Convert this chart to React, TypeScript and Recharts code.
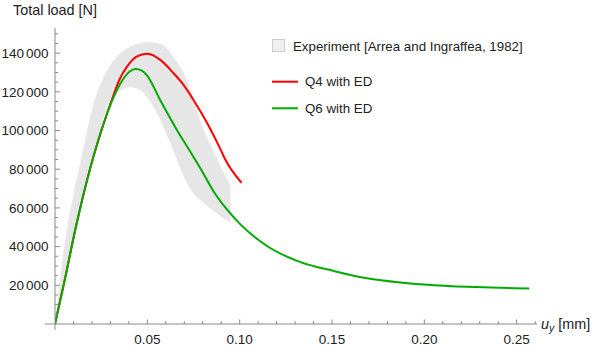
import {
  Area,
  ComposedChart,
  Label,
  Legend,
  Line,
  ReferenceLine,
  XAxis,
  YAxis,
} from 'recharts';

const FONT = '"Liberation Sans", Arial, sans-serif';
const axisColor = '#8a8a8a';
const textColor = '#222';

const bandX = [0, 0.005, 0.01, 0.015, 0.02, 0.025, 0.03, 0.035, 0.04, 0.045, 0.05, 0.055, 0.06, 0.065, 0.07, 0.075, 0.08, 0.085, 0.09, 0.095];
const bandLow = [0, 21500, 43000, 64000, 84000, 102000, 116000, 120500, 122400, 121500, 117000, 109500, 99000, 87500, 75500, 67500, 63000, 59000, 55500, 52500];
const bandHigh = [0, 40000, 67000, 89000, 111000, 125000, 134000, 139500, 143000, 144800, 145600, 145200, 143000, 137000, 129000, 116500, 101500, 91000, 81000, 72000];

// Q4 with ED
const q4X = [0, 0.005, 0.011, 0.0191, 0.0282, 0.031, 0.035, 0.039, 0.0444, 0.0498, 0.0516, 0.057, 0.0643, 0.0697, 0.0751, 0.0823, 0.0895, 0.0922, 0.1010];
const q4Load = [0, 21500, 48800, 80600, 108800, 116500, 126500, 133000, 138300, 139700, 139400, 136500, 129500, 123500, 115700, 104000, 90500, 85000, 73000];

// Q6 with ED
const q6X = [0, 0.005, 0.011, 0.0191, 0.0282, 0.0354, 0.0405, 0.0435, 0.047, 0.0498, 0.057, 0.066, 0.0733, 0.0787, 0.0859, 0.0932, 0.1004, 0.1148, 0.1329, 0.151, 0.169, 0.187, 0.205, 0.223, 0.241, 0.2568];
const q6Load = [0, 21500, 48800, 80600, 108800, 124300, 130500, 131800, 131000, 128500, 115700, 100300, 89000, 80500, 68500, 59100, 51500, 40300, 32000, 27400, 23600, 21400, 20000, 19200, 18700, 18350];

const xMajor = [0.05, 0.1, 0.15, 0.2, 0.25];
const xLabels = ['0.05', '0.10', '0.15', '0.20', '0.25'];
const yMajor = [20000, 40000, 60000, 80000, 100000, 120000, 140000];
const yLabels = ['20', '40', '60', '80', '100', '120', '140'];

const bandData = bandX.map((x, i) => ({ x, range: [bandLow[i], bandHigh[i]] }));
const q4Data = q4X.map((x, i) => ({ x, load: q4Load[i] }));
const q6Data = q6X.map((x, i) => ({ x, load: q6Load[i] }));

const xTicks: number[] = [];
for (let i = 1; i <= 26; i++) xTicks.push(i / 100);
const yTicks: number[] = [];
for (let i = 1; i <= 30; i++) yTicks.push(i * 5000);

function XTick(props: any) {
  const { x, y, payload } = props;
  const idx = xMajor.findIndex((m) => Math.abs(m - payload.value) < 1e-6);
  const major = idx >= 0;
  return (
    <g>
      <line x1={x} x2={x} y1={y} y2={y - (major ? 4.5 : 3)} stroke={axisColor} />
      {major && (
        <text x={x} y={y + 20} textAnchor="middle" fontSize={13.5} fontFamily={FONT} fill={textColor}>
          {xLabels[idx]}
        </text>
      )}
    </g>
  );
}

function YTick(props: any) {
  const { x, y, payload } = props;
  const idx = yMajor.indexOf(payload.value);
  const major = idx >= 0;
  return (
    <g>
      <line x1={x} x2={x + (major ? 5 : 3)} y1={y} y2={y} stroke={axisColor} />
      {major && (
        <text x={x - 6.5} y={y} dy="0.36em" textAnchor="end" fontSize={13.5} fontFamily={FONT} fill={textColor}>
          <tspan>{yLabels[idx]}</tspan>
          <tspan dx={2}>000</tspan>
        </text>
      )}
    </g>
  );
}

function ChartLegend() {
  return (
    <svg width={330} height={90} style={{ display: 'block' }}>
      <rect x={7.5} y={9.5} width={12} height={12} fill="#f0f0f0" stroke="#cdcdcd" />
      <text x={28} y={16} dominantBaseline="central" fontSize={13.3} fontFamily={FONT} fill={textColor}>
        Experiment [Arrea and Ingraffea, 1982]
      </text>
      <line x1={7} x2={33} y1={51.7} y2={51.7} stroke="#ff0000" strokeWidth={2} />
      <text x={40} y={51.7} dominantBaseline="central" fontSize={13.3} fontFamily={FONT} fill={textColor}>
        Q4 with ED
      </text>
      <line x1={7} x2={33} y1={78.3} y2={78.3} stroke="#00aa00" strokeWidth={2} />
      <text x={40} y={78.3} dominantBaseline="central" fontSize={13.3} fontFamily={FONT} fill={textColor}>
        Q6 with ED
      </text>
    </svg>
  );
}

export default function App() {
  return (
    <div style={{ position: 'absolute', left: 0, top: 0, width: 599, height: 348, background: '#fff' }}>
      <ComposedChart width={599} height={348} margin={{ top: 28, right: 62, bottom: 0, left: 0 }} style={{ overflow: 'visible' }}>
        <XAxis
          dataKey="x"
          type="number"
          domain={[0, 0.261]}
          allowDataOverflow
          ticks={xTicks}
          interval={0}
          height={24}
          tickSize={0}
          tickMargin={0}
          tickLine={false}
          axisLine={{ stroke: axisColor }}
          tick={<XTick />}
        >
          <Label
            content={() => (
              <text x={541} y={329} fontSize={14.4} fontFamily={FONT} fill={textColor}>
                <tspan fontStyle="italic">u</tspan>
                <tspan fontStyle="italic" fontSize={10.5} dy={3}>y</tspan>
                <tspan dy={-3}> [mm]</tspan>
              </text>
            )}
          />
        </XAxis>
        <YAxis
          type="number"
          domain={[0, 153000]}
          allowDataOverflow
          ticks={yTicks}
          interval={0}
          width={55}
          tickSize={0}
          tickMargin={0}
          tickLine={false}
          axisLine={{ stroke: axisColor }}
          tick={<YTick />}
        >
          <Label
            content={() => (
              <text x={13} y={15} fontSize={14.4} fontFamily={FONT} fill={textColor}>
                Total load [N]
              </text>
            )}
          />
        </YAxis>
        <ReferenceLine
          segment={[{ x: -0.0055, y: 0 }, { x: 0, y: 0 }]}
          ifOverflow="visible"
          stroke={axisColor}
        />
        <ReferenceLine
          segment={[{ x: 0, y: 0 }, { x: 0, y: -3000 }]}
          ifOverflow="visible"
          stroke={axisColor}
        />
        <Area
          data={bandData}
          dataKey="range"
          type="monotone"
          fill="#e6e6e6"
          fillOpacity={1}
          stroke="none"
          isAnimationActive={false}
        />
        <Line
          data={q4Data}
          dataKey="load"
          type="monotone"
          stroke="#ff0000"
          strokeWidth={2}
          dot={false}
          isAnimationActive={false}
        />
        <Line
          data={q6Data}
          dataKey="load"
          type="monotone"
          stroke="#00aa00"
          strokeWidth={2}
          dot={false}
          isAnimationActive={false}
        />
        <Legend
          layout="vertical"
          align="center"
          verticalAlign="middle"
          wrapperStyle={{ top: 30, left: 265, width: 330, height: 90 }}
          content={() => <ChartLegend />}
        />
      </ComposedChart>
    </div>
  );
}
